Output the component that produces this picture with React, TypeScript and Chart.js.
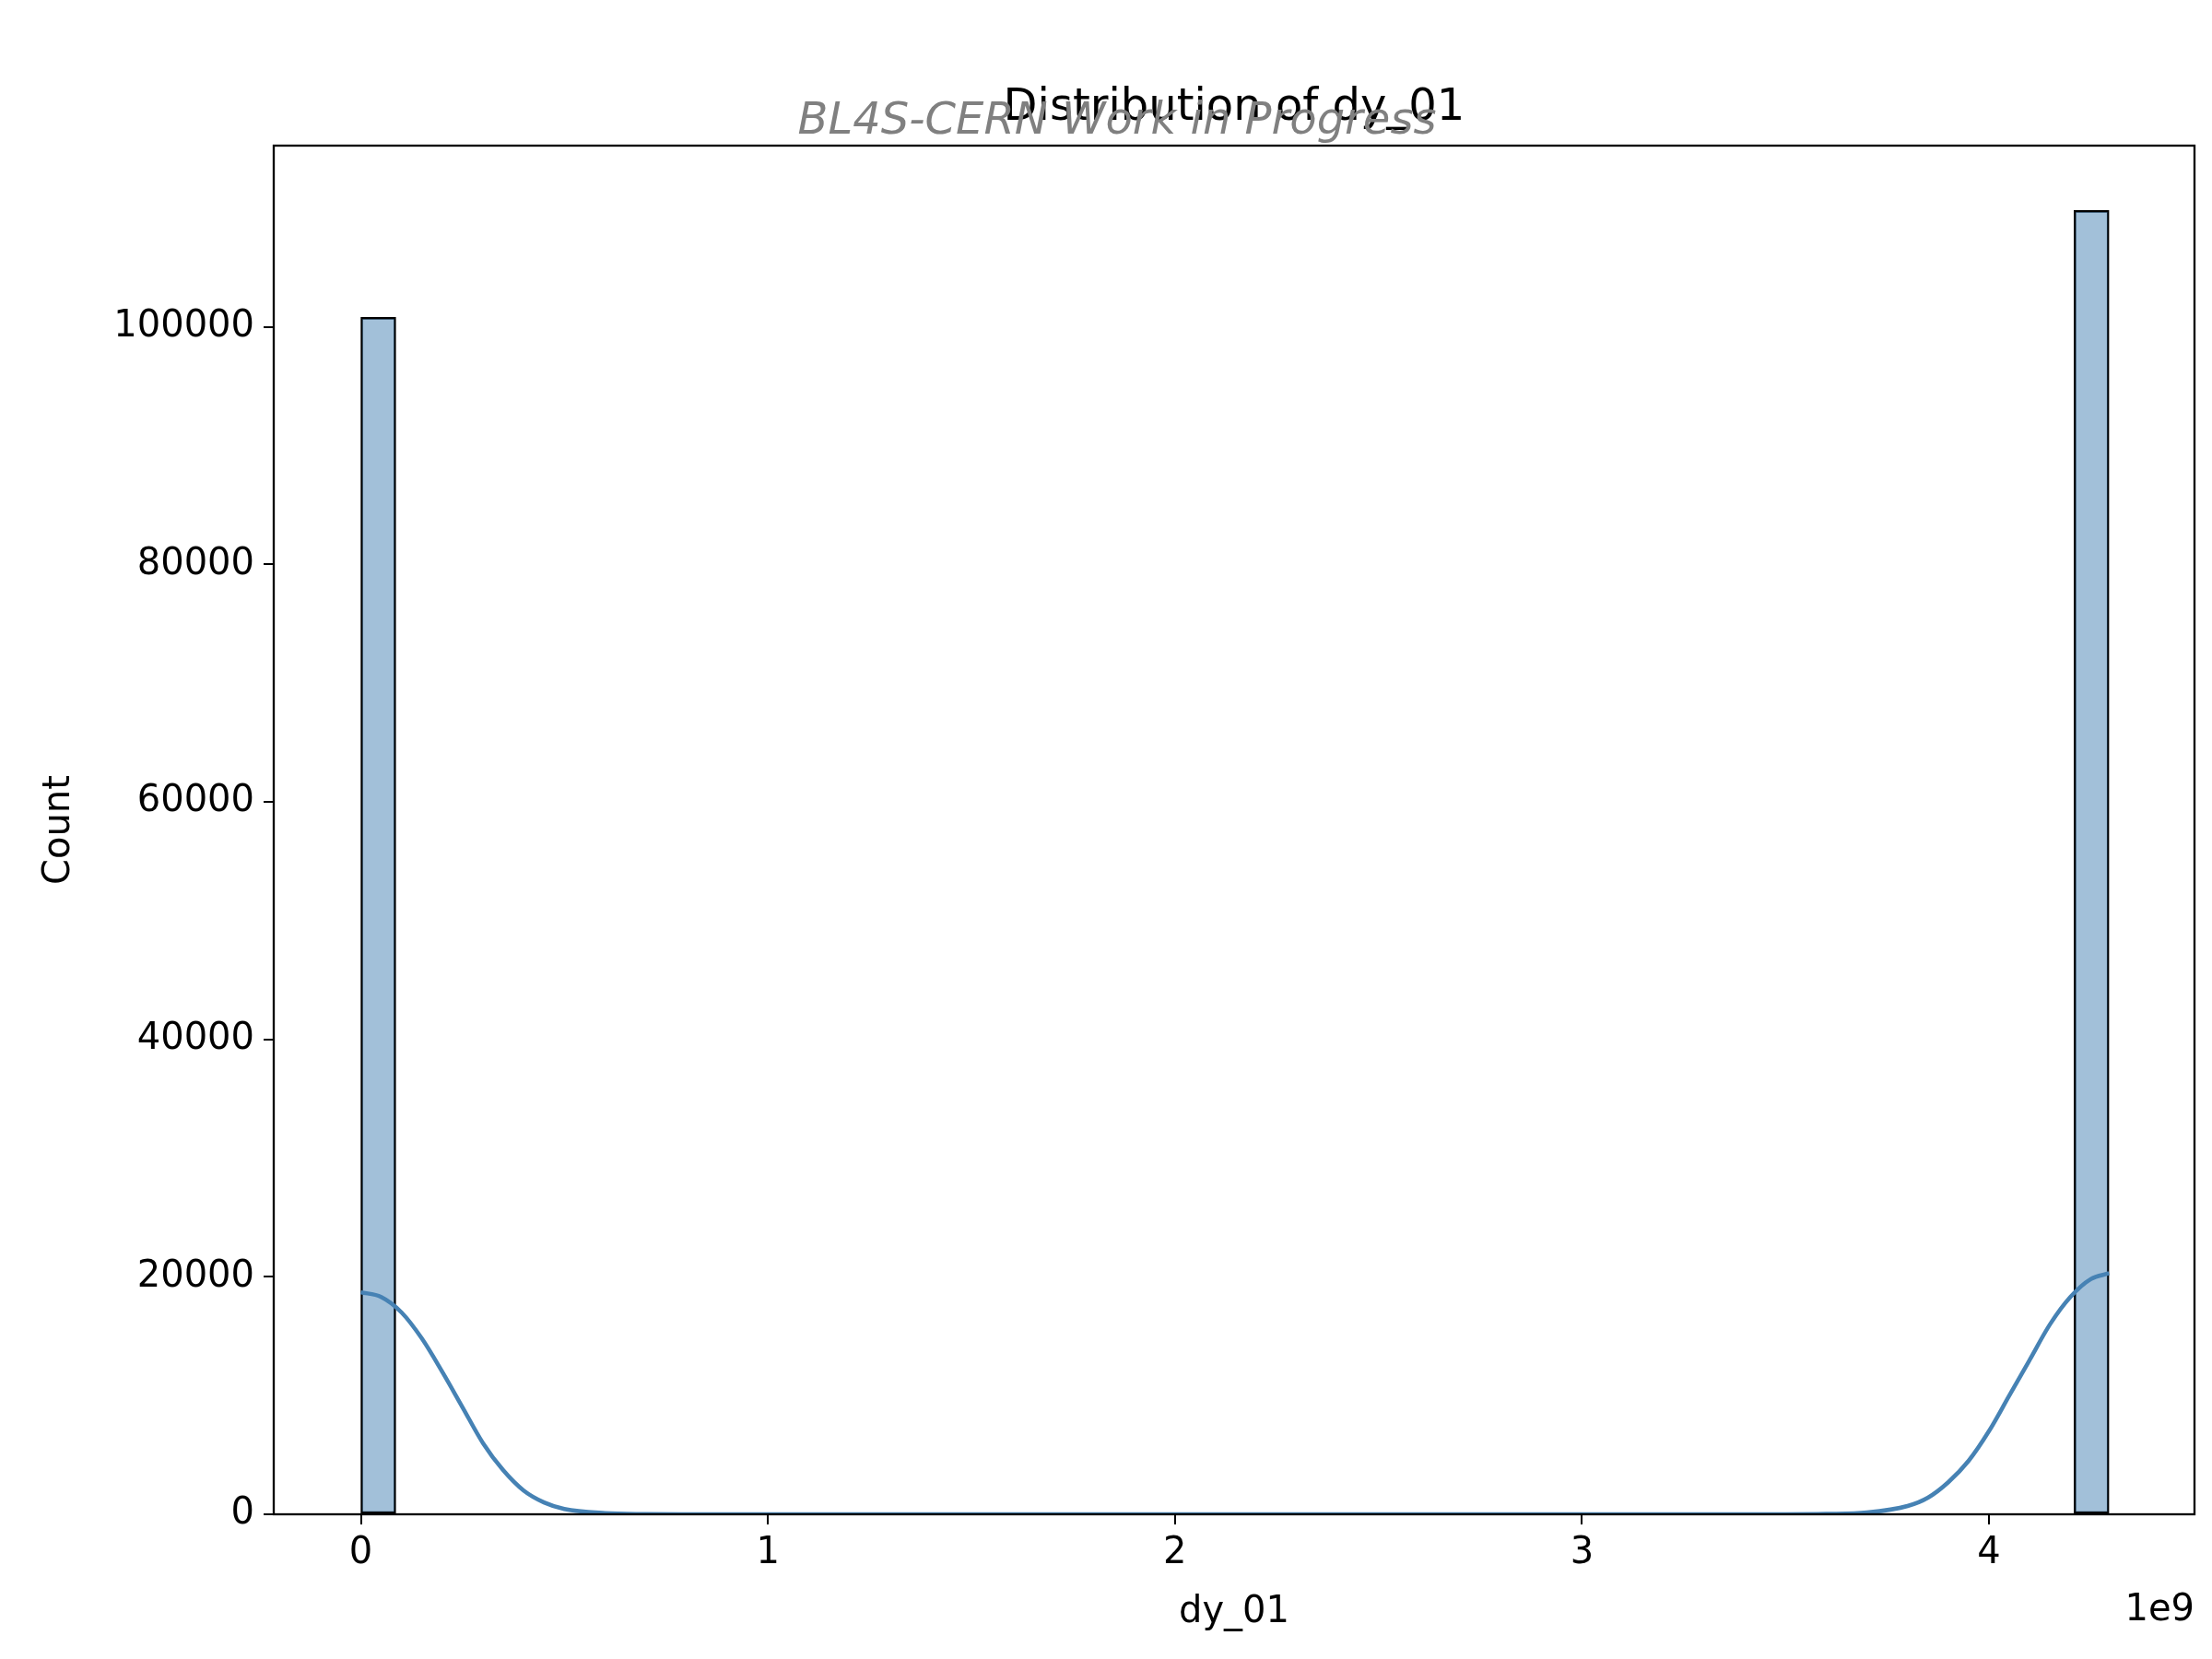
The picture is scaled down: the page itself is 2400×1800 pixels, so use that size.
import { useEffect, useRef } from 'react';
import Chart from 'chart.js/auto';

const binCount = 50;
const binMax = 4.295e9;
const firstBinCount = 100800;
const lastBinCount = 109800;

const xTicks = [0, 1, 2, 3, 4];
const yTicks = [0, 20000, 40000, 60000, 80000, 100000];

const kdeX = [0, 0.05, 0.1, 0.15, 0.2, 0.25, 0.3, 0.35, 0.4, 0.45, 0.5, 0.6, 0.7, 0.8, 1.5, 2.5, 3.5, 3.6, 3.7, 3.8, 3.85, 3.9, 3.95, 4.0, 4.05, 4.1, 4.15, 4.2, 4.25, 4.295];
const kdeY = [18700, 18300, 17000, 14800, 12000, 9000, 6000, 3700, 2000, 1000, 450, 100, 20, 0, 0, 0, 0, 30, 150, 700, 1400, 2700, 4500, 7000, 10000, 13000, 16000, 18300, 19800, 20300];

const binWidth = binMax / binCount;
const binCounts = Array.from({ length: binCount }, (_, i) =>
  i === 0 ? firstBinCount : i === binCount - 1 ? lastBinCount : 0
);

const overlay = {
  id: 'overlay',
  afterDraw(chart: any) {
    const { ctx, chartArea } = chart;
    ctx.save();
    ctx.strokeStyle = '#000';
    ctx.lineWidth = 2.3;
    ctx.strokeRect(chartArea.left, chartArea.top, chartArea.right - chartArea.left, chartArea.bottom - chartArea.top);
    const cx = (chartArea.left + chartArea.right) / 2;
    ctx.textAlign = 'center';
    ctx.textBaseline = 'alphabetic';
    ctx.fillStyle = '#000';
    ctx.font = '48px "DejaVu Sans"';
    ctx.fillText('Distribution of dy_01', cx, 130);
    ctx.fillStyle = 'rgba(128,128,128,1)';
    ctx.font = 'italic 48px "DejaVu Sans"';
    ctx.fillText('BL4S-CERN Work in Progress', 1212, 145);
    ctx.fillStyle = '#000';
    ctx.font = '40px "DejaVu Sans"';
    ctx.textBaseline = 'middle';
    ctx.fillText('dy_01', cx, 1750);
    ctx.textAlign = 'right';
    ctx.fillText('1e9', chartArea.right, 1748);
    ctx.translate(65, (chartArea.top + chartArea.bottom) / 2);
    ctx.rotate(-Math.PI / 2);
    ctx.textAlign = 'center';
    ctx.fillText('Count', 0, 0);
    ctx.restore();
  },
};

const App = () => {
  const canvasRef = useRef<HTMLCanvasElement>(null);

  useEffect(() => {
    document.body.style.margin = '0';
    if (!canvasRef.current) return;
    const tickFont = { family: 'DejaVu Sans', size: 40 };
    const chart = new Chart(canvasRef.current, {
      type: 'bar',
      data: {
        datasets: [
          {
            type: 'line',
            data: kdeX.map((x, i) => ({ x: x * 1e9, y: kdeY[i] })),
            borderColor: 'rgb(70,130,180)',
            borderWidth: 4.5,
            pointRadius: 0,
            cubicInterpolationMode: 'monotone',
          } as any,
          {
            type: 'bar',
            data: binCounts.map((c, i) => ({ x: (i + 0.5) * binWidth, y: c })),
            backgroundColor: 'rgba(70,130,180,0.5)',
            borderColor: '#000',
            borderWidth: 2,
            borderSkipped: false,
            categoryPercentage: 1,
            barPercentage: 1,
          } as any,
        ],
      },
      options: {
        responsive: false,
        animation: false,
        plugins: { legend: { display: false }, tooltip: { enabled: false } },
        layout: { padding: { top: 158, right: 19, left: 0, bottom: 0 } },
        scales: {
          x: {
            type: 'linear',
            offset: false,
            min: -0.214e9,
            max: 4.505e9,
            afterFit: (s: any) => { s.height = 157; },
            afterBuildTicks: (s: any) => { s.ticks = xTicks.map((v) => ({ value: v * 1e9 })); },
            ticks: { color: '#000', font: tickFont, callback: (v: any) => String(Math.round(v / 1e9)), padding: 8, maxRotation: 0 },
            grid: { offset: false, drawOnChartArea: false, tickLength: 11, color: '#000', lineWidth: 2 },
            border: { display: false },
          },
          y: {
            type: 'linear',
            min: 0,
            max: 115260,
            afterFit: (s: any) => { s.width = 297; },
            afterBuildTicks: (s: any) => { s.ticks = yTicks.map((v) => ({ value: v })); },
            ticks: { color: '#000', font: tickFont, padding: 10, callback: (v: any) => String(v) },
            grid: { drawOnChartArea: false, tickLength: 11, color: '#000', lineWidth: 2 },
            border: { display: false },
          },
        },
      },
      plugins: [overlay],
    });
    return () => chart.destroy();
  }, []);

  return (
    <div style={{ width: 2400, height: 1800, background: '#fff' }}>
      <canvas ref={canvasRef} width={2400} height={1800} />
    </div>
  );
};

export default App;
